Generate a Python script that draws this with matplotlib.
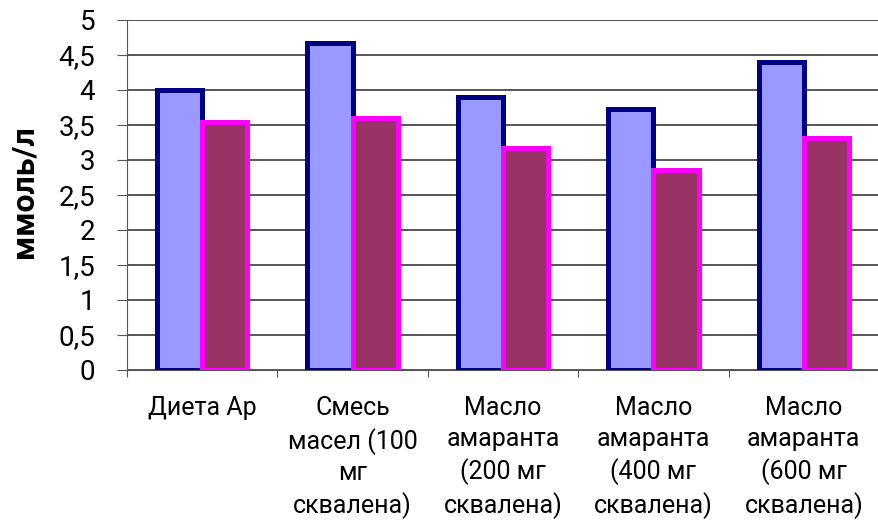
import numpy as np
import matplotlib
matplotlib.use('Agg')
import matplotlib.pyplot as plt

plt.rcParams['font.family'] = ['Roboto', 'DejaVu Sans']

# группы и значения (ммоль/л)
groups = ['Диета Ар',
          'Смесь\nмасел (100\nмг\nсквалена)',
          'Масло\nамаранта\n(200 мг\nсквалена)',
          'Масло\nамаранта\n(400 мг\nсквалена)',
          'Масло\nамаранта\n(600 мг\nсквалена)']
ser1 = [4.0, 4.67, 3.9, 3.73, 4.4]
ser2 = [3.55, 3.6, 3.17, 2.86, 3.31]
yticks = [0, 0.5, 1, 1.5, 2, 2.5, 3, 3.5, 4, 4.5, 5]
ylabels = ['0', '0,5', '1', '1,5', '2', '2,5', '3', '3,5', '4', '4,5', '5']

fig = plt.figure(figsize=(8.79, 5.21), dpi=100)
ax = fig.add_axes([127/879, 1-370/521, 1-127/879, 350/521])

x = np.arange(len(groups))
w = 0.3
ax.bar(x - w/2, ser1, w, color='#9999FF', edgecolor='#000080', linewidth=3.6, zorder=3)
ax.bar(x + w/2, ser2, w, color='#993366', edgecolor='#FF00FF', linewidth=3.6, zorder=3)

ax.set_xlim(-0.5, 4.5)
ax.set_ylim(0, 5)
ax.set_yticks(yticks)
ax.set_yticklabels(ylabels, fontsize=20)
# подписи групп по центру, засечки между группами
ax.set_xticks(np.append(x - 0.5, 4.5))
ax.set_xticklabels([])
ax.set_xticks(x, minor=True)
ax.set_xticklabels(groups, minor=True, fontsize=18, linespacing=1.35)
ax.tick_params(axis='x', which='minor', length=0, pad=19)
ax.tick_params(axis='x', which='major', length=5, direction='out', color='#555555')
ax.tick_params(axis='y', length=7, pad=16, color='#555555')

ax.yaxis.grid(True, color='#3a3a3a', linewidth=1.2, zorder=0)
for s in ['top', 'right']:
    ax.spines[s].set_visible(False)
ax.spines['left'].set_color('#555555')
ax.spines['bottom'].set_color('#555555')

fig.text(24/879, 1-192/521, 'ммоль/л', fontsize=23, fontweight='bold',
         rotation=90, ha='center', va='center')

fig.savefig('out.png', dpi=100)
